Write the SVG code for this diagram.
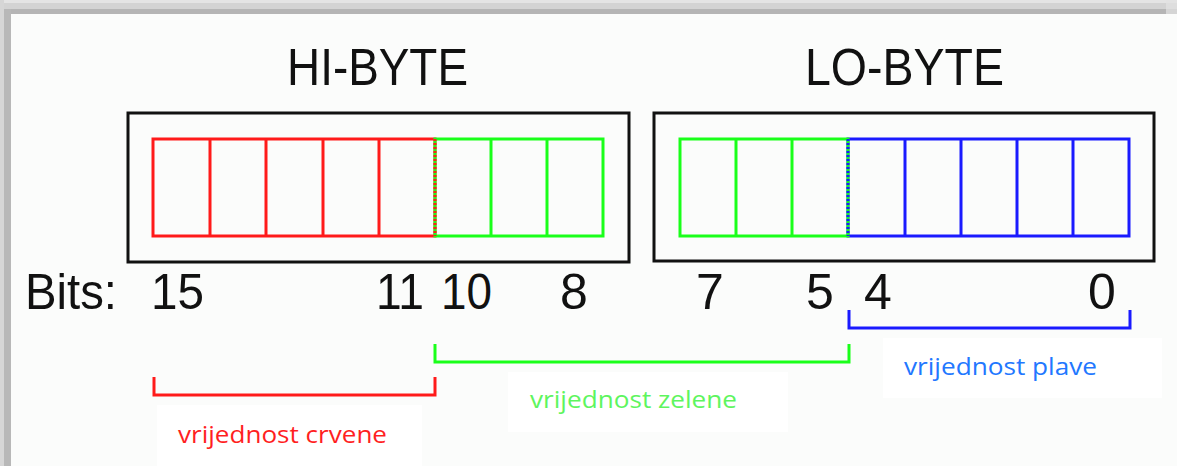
<svg xmlns="http://www.w3.org/2000/svg" width="1177" height="466" viewBox="0 0 1177 466">
<style>
.frame{fill:none;stroke:#111;stroke-width:3}
.cell{fill:none;stroke-width:3}
.r{stroke:#ff1a1a}
.g{stroke:#1aff1a}
.b{stroke:#1a1aff}
.big{font-family:"Liberation Sans",Arial,sans-serif;fill:#111}
.lbl{font-family:"Open Sans","Noto Sans",sans-serif;font-size:24px}
.br{fill:none;stroke-width:3}
.box{fill:#ffffff}
</style>
<rect width="1177" height="466" fill="#fbfcfb"/>
<g id="shadow">
<rect x="0" y="0" width="1177" height="3" fill="#e4e4e4"/>
<rect x="0" y="3" width="1177" height="6" fill="#d3d3d3"/>
<rect x="0" y="9" width="1177" height="5" fill="#b5b5b5"/>
<rect x="1166" y="0" width="11" height="14" fill="#e2e2e2" opacity="0.7"/>
<rect x="0" y="0" width="4" height="466" fill="#d6d6d6"/>
<rect x="4" y="9" width="7" height="457" fill="#b8b8b8"/>
</g>
<g id="hi-byte">
<text class="big" x="287" y="85" font-size="52" textLength="181" lengthAdjust="spacingAndGlyphs">HI-BYTE</text>
<rect class="frame" x="128" y="113" width="501" height="149"/>
<rect class="cell r" x="153" y="139" width="282" height="97"/>
<path class="cell r" d="M210 139V236M266 139V236M323 139V236M379 139V236"/>
<rect class="cell g" x="435" y="139" width="168" height="97"/>
<path class="cell g" d="M491 139V236M547 139V236"/>
<path class="cell r" d="M435 139V236" stroke-dasharray="2 2"/>
</g>
<g id="lo-byte">
<text class="big" x="805" y="85" font-size="52" textLength="199" lengthAdjust="spacingAndGlyphs">LO-BYTE</text>
<rect class="frame" x="654" y="113" width="500" height="148"/>
<rect class="cell b" x="848" y="139" width="281" height="97"/>
<path class="cell b" d="M905 139V236M961 139V236M1017 139V236M1073 139V236"/>
<rect class="cell g" x="680" y="139" width="168" height="97"/>
<path class="cell g" d="M736 139V236M792 139V236"/>
<path class="cell b" d="M848 139V236" stroke-dasharray="2 2"/>
</g>
<g id="bits">
<text class="big" x="25" y="309" font-size="50" textLength="92" lengthAdjust="spacingAndGlyphs">Bits:</text>
<text class="big" x="151" y="309" font-size="50" textLength="53" lengthAdjust="spacingAndGlyphs">15</text>
<text class="big" x="376" y="309" font-size="50" textLength="48" lengthAdjust="spacingAndGlyphs">11</text>
<text class="big" x="441" y="309" font-size="50" textLength="51" lengthAdjust="spacingAndGlyphs">10</text>
<text class="big" x="560" y="309" font-size="50">8</text>
<text class="big" x="696" y="309" font-size="50">7</text>
<text class="big" x="806" y="309" font-size="50">5</text>
<text class="big" x="864" y="309" font-size="50">4</text>
<text class="big" x="1088" y="309" font-size="50">0</text>
</g>
<g id="connectors">
<path class="br r" d="M154 377V395H435V377"/>
<path class="br g" d="M435 344V362H849V344"/>
<path class="br b" d="M849 310V328H1130V310"/>
</g>
<g id="label-red">
<rect class="box" x="157" y="405" width="265" height="61"/>
<text class="lbl" x="178" y="443" fill="#ff1f1f" textLength="209" lengthAdjust="spacingAndGlyphs">vrijednost crvene</text>
</g>
<g id="label-green">
<rect class="box" x="508" y="372" width="280" height="60"/>
<text class="lbl" x="530" y="408" fill="#5ef55e" textLength="207" lengthAdjust="spacingAndGlyphs">vrijednost zelene</text>
</g>
<g id="label-blue">
<rect class="box" x="883" y="338" width="279" height="60"/>
<text class="lbl" x="904" y="375" fill="#2277ff" textLength="193" lengthAdjust="spacingAndGlyphs">vrijednost plave</text>
</g>
</svg>
